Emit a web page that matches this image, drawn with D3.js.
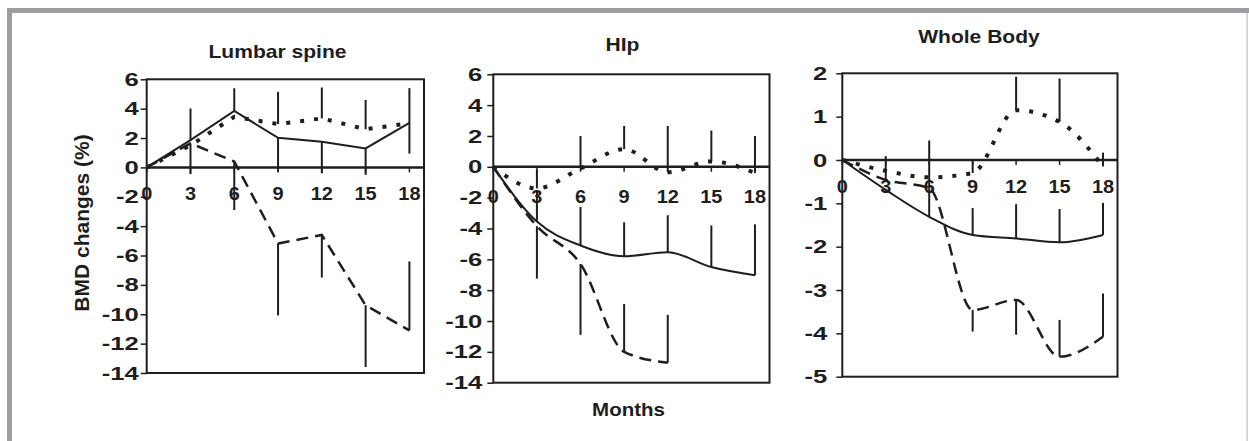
<!DOCTYPE html>
<html>
<head>
<meta charset="utf-8">
<script src="https://cdn.jsdelivr.net/npm/d3@7"></script>
<style>
  body { margin: 0; background: #fff; }
  svg { display: block; }
  text { font-family: "Liberation Sans", Arial, sans-serif; font-weight: bold; fill: #1e1e1e; }
</style>
</head>
<body>
<svg id="chart" width="1249" height="441"></svg>
<script>
let months = [0, 3, 6, 9, 12, 15, 18]
let panel_titles = ["Lumbar spine", "HIp", "Whole Body"]
let y_ticks_bmd = [6, 4, 2, 0, -2, -4, -6, -8, -10, -12, -14]
let y_ticks_whole = [2, 1, 0, -1, -2, -3, -4, -5]

// lumbar spine, % change; error bars are signed (up = +, down = -)
let lumbar_solid = [0, 1.86, 3.84, 2.02, 1.75, 1.29, 3.04]
let lumbar_solid_err = [null, 2.15, 1.55, -2.3, -2.15, -1.8, -2.1]
let lumbar_dashed = [0, 1.64, 0.4, -5.18, -4.6, -9.39, -11.1]
let lumbar_dashed_err = [null, -2.1, -3.3, -4.9, -2.9, -4.2, 4.7]
let lumbar_dotted = [0, 1.5, 3.45, 2.95, 3.34, 2.6, 3.0]
let lumbar_dotted_err = [null, null, null, 2.2, 2.1, 2.0, 2.4]

// hip
let hip_solid = [0, -3.55, -5.1, -5.8, -5.54, -6.5, -7.03]
let hip_solid_err = [null, 2.0, 2.5, 2.2, 2.4, 2.7, 3.3]
let hip_dashed = [0, -3.85, -6.3, -12.0, -12.7, null, null]
let hip_dashed_err = [null, -3.4, -4.6, 3.1, 3.1, null, null]
let hip_dotted = [0, -1.4, -0.1, 1.15, -0.35, 0.35, -0.4]
let hip_dotted_err = [null, 1.2, 2.1, 1.5, 3.0, 2.0, 2.4]

// whole body
let whole_solid = [0, -0.69, -1.31, -1.73, -1.81, -1.9, -1.73]
let whole_solid_err = [null, null, 0.66, 0.62, 0.79, 0.77, 0.74]
let whole_dashed = [0, -0.46, -0.65, -3.46, -3.23, -4.54, -4.08]
let whole_dashed_err = [null, 0.55, 1.1, -0.5, -0.8, 0.85, 1.0]
let whole_dotted = [0, -0.25, -0.4, -0.3, 1.15, 0.88, -0.15]
let whole_dotted_err = [null, null, null, 0.3, 0.77, 1.0, 0.32]

let ink = "#1e1e1e"

window.onload = function() {
  let svg = d3.select("#chart")

  // grey frame
  svg.append("rect").attr("x", 7).attr("y", 8).attr("width", 1242).attr("height", 5).attr("fill", "#9e9ea2")
  svg.append("rect").attr("x", 7).attr("y", 8).attr("width", 5).attr("height", 433).attr("fill", "#9e9ea2")
  svg.append("rect").attr("x", 1246.5).attr("y", 13).attr("width", 1.2).attr("height", 428).attr("fill", "#c4c4c4")

  render_panel(svg, {
    title: panel_titles[0], title_x: 277.5, title_y: 58,
    left: 146.7, right: 424, top: 79.3, bottom: 373,
    y_ticks: y_ticks_bmd, label_gap: 8, x_label_dy: 19.5, curve: d3.curveLinear,
    series: [
      [lumbar_solid, lumbar_solid_err, "solid"],
      [lumbar_dashed, lumbar_dashed_err, "dashed"],
      [lumbar_dotted, lumbar_dotted_err, "dotted"]
    ]
  })
  render_panel(svg, {
    title: panel_titles[1], title_x: 622.5, title_y: 51,
    left: 493.3, right: 769.5, top: 74.3, bottom: 382.7,
    y_ticks: y_ticks_bmd, label_gap: 11, x_label_dy: 22.5, curve: d3.curveMonotoneX,
    series: [
      [hip_solid, hip_solid_err, "solid"],
      [hip_dashed, hip_dashed_err, "dashed"],
      [hip_dotted, hip_dotted_err, "dotted"]
    ]
  })
  render_panel(svg, {
    title: panel_titles[2], title_x: 979, title_y: 42.5,
    left: 842.3, right: 1117.5, top: 73.3, bottom: 376.7,
    y_ticks: y_ticks_whole, label_gap: 15, x_label_dy: 20, curve: d3.curveMonotoneX,
    series: [
      [whole_solid, whole_solid_err, "solid"],
      [whole_dashed, whole_dashed_err, "dashed"],
      [whole_dotted, whole_dotted_err, "dotted"]
    ]
  })

  render_label(svg, 628.5, 416, "Months", 18, 1.14, 0)
  svg.append("text")
    .attr("transform", "translate(88.5,223) rotate(-90)")
    .attr("text-anchor", "middle")
    .attr("font-size", 21)
    .text("BMD changes (%)")
}

function render_label(svg, x, y, value, font_size, stretch, rotate) {
  svg.append("g")
    .attr("transform", `translate(${x},${y}) scale(${stretch},1)`)
    .append("text")
    .attr("text-anchor", "middle")
    .attr("font-size", font_size)
    .text(value)
}

function render_panel(svg, p) {
  let x = d3.scaleLinear().domain([0, 19]).range([p.left, p.right])
  let y = d3.scaleLinear()
    .domain([p.y_ticks[p.y_ticks.length - 1], p.y_ticks[0]])
    .range([p.bottom, p.top])

  render_label(svg, p.title_x, p.title_y, p.title, 18, 1.17, 0)

  svg.append("rect")
    .attr("x", p.left).attr("y", p.top)
    .attr("width", p.right - p.left).attr("height", p.bottom - p.top)
    .attr("fill", "none").attr("stroke", ink).attr("stroke-width", 2)

  let gy = svg.append("g")
    .attr("transform", `translate(${p.left},0)`)
    .call(d3.axisLeft(y).tickValues(p.y_ticks).tickSize(6).tickFormat(d => String(d)))
  gy.attr("font-family", null).attr("font-size", null)
  gy.select(".domain").remove()
  gy.selectAll("line").attr("stroke", ink).attr("stroke-width", 1.5)
  gy.selectAll("text")
    .attr("x", -p.label_gap / 1.35)
    .attr("transform", "scale(1.35,1)")
    .attr("font-size", 19)

  // zero line with the month ticks hanging below it
  svg.append("line")
    .attr("x1", p.left).attr("x2", p.right)
    .attr("y1", y(0)).attr("y2", y(0))
    .attr("stroke", ink).attr("stroke-width", 2.5)

  let gx = svg.append("g")
    .attr("transform", `translate(0,${y(0)})`)
    .call(d3.axisBottom(x).tickValues(months).tickSize(5).tickSizeOuter(0))
  gx.attr("font-family", null).attr("font-size", null)
  gx.select(".domain").remove()
  gx.selectAll("line").attr("stroke", ink).attr("stroke-width", 1.5)
  gx.selectAll("text")
    .attr("y", p.x_label_dy)
    .attr("transform", "scale(1.05,1)")
    .attr("font-size", 19)
  gx.selectAll(".tick").each(function(d) {
    d3.select(this).attr("transform", `translate(${x(d)},0)`)
    d3.select(this).select("text").attr("x", 0)
  })

  // error bars first, lines on top
  p.series.forEach(function(s) {
    let values = s[0], errs = s[1]
    months.forEach(function(m, i) {
      if (values[i] == null || errs[i] == null) return
      svg.append("line")
        .attr("x1", x(m)).attr("x2", x(m))
        .attr("y1", y(values[i])).attr("y2", y(values[i] + errs[i]))
        .attr("stroke", ink).attr("stroke-width", 2)
    })
  })

  p.series.forEach(function(s) {
    let values = s[0], style = s[2]
    let line = d3.line()
      .defined((d, i) => values[i] != null)
      .x((d, i) => x(months[i]))
      .y(d => y(d))
      .curve(p.curve)
    let path = svg.append("path")
      .attr("d", line(values))
      .attr("fill", "none")
      .attr("stroke", ink)
    if (style == "solid") path.attr("stroke-width", 2)
    if (style == "dashed") path.attr("stroke-width", 2.5).attr("stroke-dasharray", "12,7")
    if (style == "dotted") path.attr("stroke-width", 4).attr("stroke-dasharray", "4,10")
  })
}
</script>
</body>
</html>
